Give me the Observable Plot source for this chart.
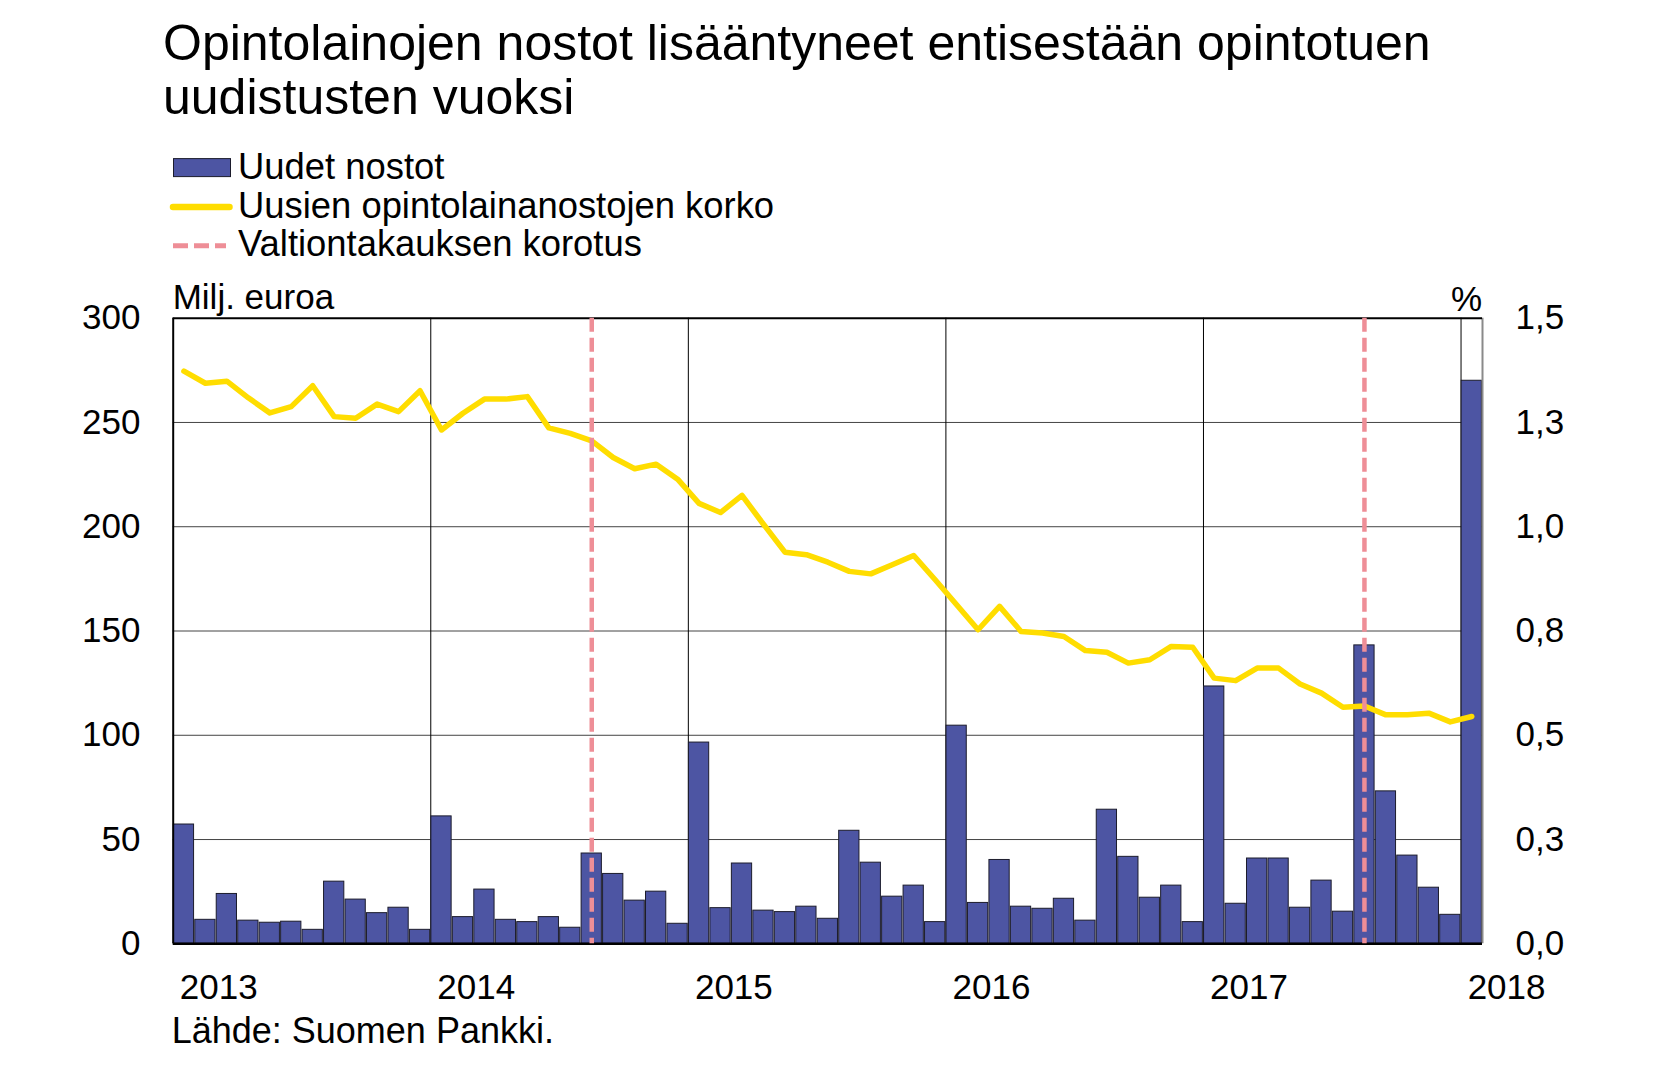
<!DOCTYPE html>
<html><head><meta charset="utf-8">
<script src="https://cdn.jsdelivr.net/npm/d3@7"></script>
<script src="https://cdn.jsdelivr.net/npm/@observablehq/plot@0.6"></script>
<style>
html,body{margin:0;padding:0;background:#fff;}
#wrap{position:relative;width:1660px;height:1084px;overflow:hidden;font-family:"Liberation Sans",Arial,Helvetica,sans-serif;color:#000;}
.abs{position:absolute;white-space:nowrap;}
#title{left:163px;top:16px;font-size:50px;line-height:54px;}
.leg{left:173px;font-size:36.4px;line-height:38px;height:38px;width:760px;}
.leg svg{position:absolute;left:0;top:0;overflow:visible;}
.leg span{position:absolute;left:65px;top:0;}
.lab{font-size:35px;line-height:38px;}
#chart{left:0;top:265px;}
</style></head>
<body><div id="wrap">
<div id="title" class="abs">Opintolainojen nostot lisääntyneet entisestään opintotuen<br>uudistusten vuoksi</div>
<div class="abs leg" style="top:148.4px"><svg width="60" height="38"><rect x="0.5" y="10.6" width="57" height="18" fill="#4D55A3" stroke="#1c1c2c" stroke-width="1"/></svg><span>Uudet nostot</span></div>
<div class="abs leg" style="top:186.7px"><svg width="60" height="38"><line x1="0" x2="56.5" y1="20" y2="20" stroke="#FFDD00" stroke-width="6.5" stroke-linecap="round"/></svg><span>Uusien opintolainanostojen korko</span></div>
<div class="abs leg" style="top:225.2px"><svg width="60" height="38"><line x1="0" x2="53" y1="20.8" y2="20.8" stroke="#EE8E97" stroke-width="5" stroke-dasharray="15,6"/></svg><span>Valtiontakauksen korotus</span></div>
<div class="abs lab" style="left:172.7px;top:278px">Milj. euroa</div>
<div class="abs lab" style="right:178px;top:280px">%</div>
<div id="chart" class="abs"></div>
<div class="abs lab" style="left:171.7px;top:1012.2px;font-size:36px">Lähde: Suomen Pankki.</div>
</div>
<script>
// Monthly data, January 2013 ... January 2018
const startYear = 2013;
const yearLabels = ["2013", "2014", "2015", "2016", "2017", "2018"];
// New student loan drawdowns, EUR million
const newLoans = [
  57.2, 11.5, 23.9, 11.1, 10.1, 10.6, 6.7, 29.8, 21.2, 14.7, 17.3, 6.7,
  61.1, 12.8, 26.0, 11.5, 10.4, 12.8, 7.7, 43.3, 33.5, 20.7, 25.0, 9.6,
  96.5, 17.1, 38.5, 15.9, 15.2, 17.8, 12.0, 54.2, 38.9, 22.6, 27.9, 10.4,
  104.6, 19.6, 40.2, 17.8, 16.8, 21.6, 11.1, 64.3, 41.7, 22.1, 27.9, 10.4,
  123.4, 19.2, 40.9, 40.9, 17.3, 30.3, 15.4, 143.1, 73.1, 42.3, 26.9, 13.9,
  270.0
];
// Interest rate on new student loan drawdowns, %
const loanRate = [
  1.373, 1.344, 1.349, 1.309, 1.273, 1.288, 1.338, 1.264, 1.260, 1.294, 1.276, 1.326,
  1.232, 1.272, 1.306, 1.306, 1.312, 1.237, 1.224, 1.206, 1.166, 1.139, 1.150, 1.114,
  1.056, 1.034, 1.075, 1.006, 0.939, 0.933, 0.915, 0.893, 0.887, 0.909, 0.931, 0.873,
  0.813, 0.753, 0.809, 0.749, 0.745, 0.737, 0.703, 0.699, 0.673, 0.681, 0.713, 0.711,
  0.637, 0.631, 0.661, 0.661, 0.623, 0.601, 0.567, 0.570, 0.549, 0.549, 0.553, 0.532,
  0.545
];
// State guarantee increases (year, month)
const guaranteeEvents = [[2014, 8], [2017, 8]];
const leftTicks = [0, 50, 100, 150, 200, 250, 300];
const rightTickLabels = ["0,0", "0,3", "0,5", "0,8", "1,0", "1,3", "1,5"];
const pctToLeft = 200; // 1.5 % on the right axis = 300 on the left axis

const bars = newLoans.map((v, i) => ({i, v}));
const rate = loanRate.map((r, i) => ({i, r}));
const events = guaranteeEvents.map(([y, m]) => (y - startYear) * 12 + (m - 1));
const yearIdx = yearLabels.map((_, k) => k * 12);

const BAR = "#4D55A3";
const chart = Plot.plot({
  width: 1660,
  height: 745,
  marginLeft: 172.7,
  marginRight: 178,
  marginTop: 52.7,
  marginBottom: 66.7,
  style: {fontFamily: "'Liberation Sans', Arial, Helvetica, sans-serif", fontSize: "35px", color: "#000", background: "transparent", overflow: "visible"},
  x: {type: "linear", domain: [0, newLoans.length]},
  y: {domain: [0, 300]},
  marks: [
    Plot.ruleY(leftTicks.slice(1, -1), {stroke: "#444", strokeWidth: 1}),
    Plot.ruleX(yearIdx.slice(1), {stroke: "#000", strokeWidth: 1}),
    Plot.rectY(bars, {x1: "i", x2: d => d.i + 1, y1: 0, y2: "v", fill: BAR, stroke: "#1c1c2c", strokeWidth: 1, insetLeft: 0.6, insetRight: 0.6}),
    Plot.ruleX([newLoans.length], {stroke: "#8a8a8a", strokeWidth: 2}),
    Plot.ruleY([300], {stroke: "#000", strokeWidth: 2}),
    Plot.ruleX([0], {stroke: "#000", strokeWidth: 2}),
    Plot.ruleY([0], {stroke: "#000", strokeWidth: 2.5}),
    Plot.line(rate, {x: d => d.i + 0.5, y: d => d.r * pctToLeft, stroke: "#FFDD00", strokeWidth: 5.5, strokeLinejoin: "round", strokeLinecap: "round"}),
    Plot.ruleX(events, {x: d => d + 0.5, stroke: "#EE8E97", strokeWidth: 4.5, strokeDasharray: "14,6"}),
    Plot.axisY({anchor: "left", ticks: leftTicks, tickSize: 0, tickPadding: 32.7, label: null, tickFormat: d => String(d)}),
    Plot.axisY({anchor: "right", ticks: leftTicks, tickSize: 0, tickPadding: 33, label: null, tickFormat: d => rightTickLabels[leftTicks.indexOf(d)]}),
    Plot.axisX({anchor: "bottom", ticks: yearIdx, tickSize: 0, tickPadding: 30.5, label: null, textAnchor: "start", dx: 6.6, tickFormat: d => yearLabels[d / 12]})
  ]
});
document.getElementById("chart").appendChild(chart);
</script>
</body></html>
